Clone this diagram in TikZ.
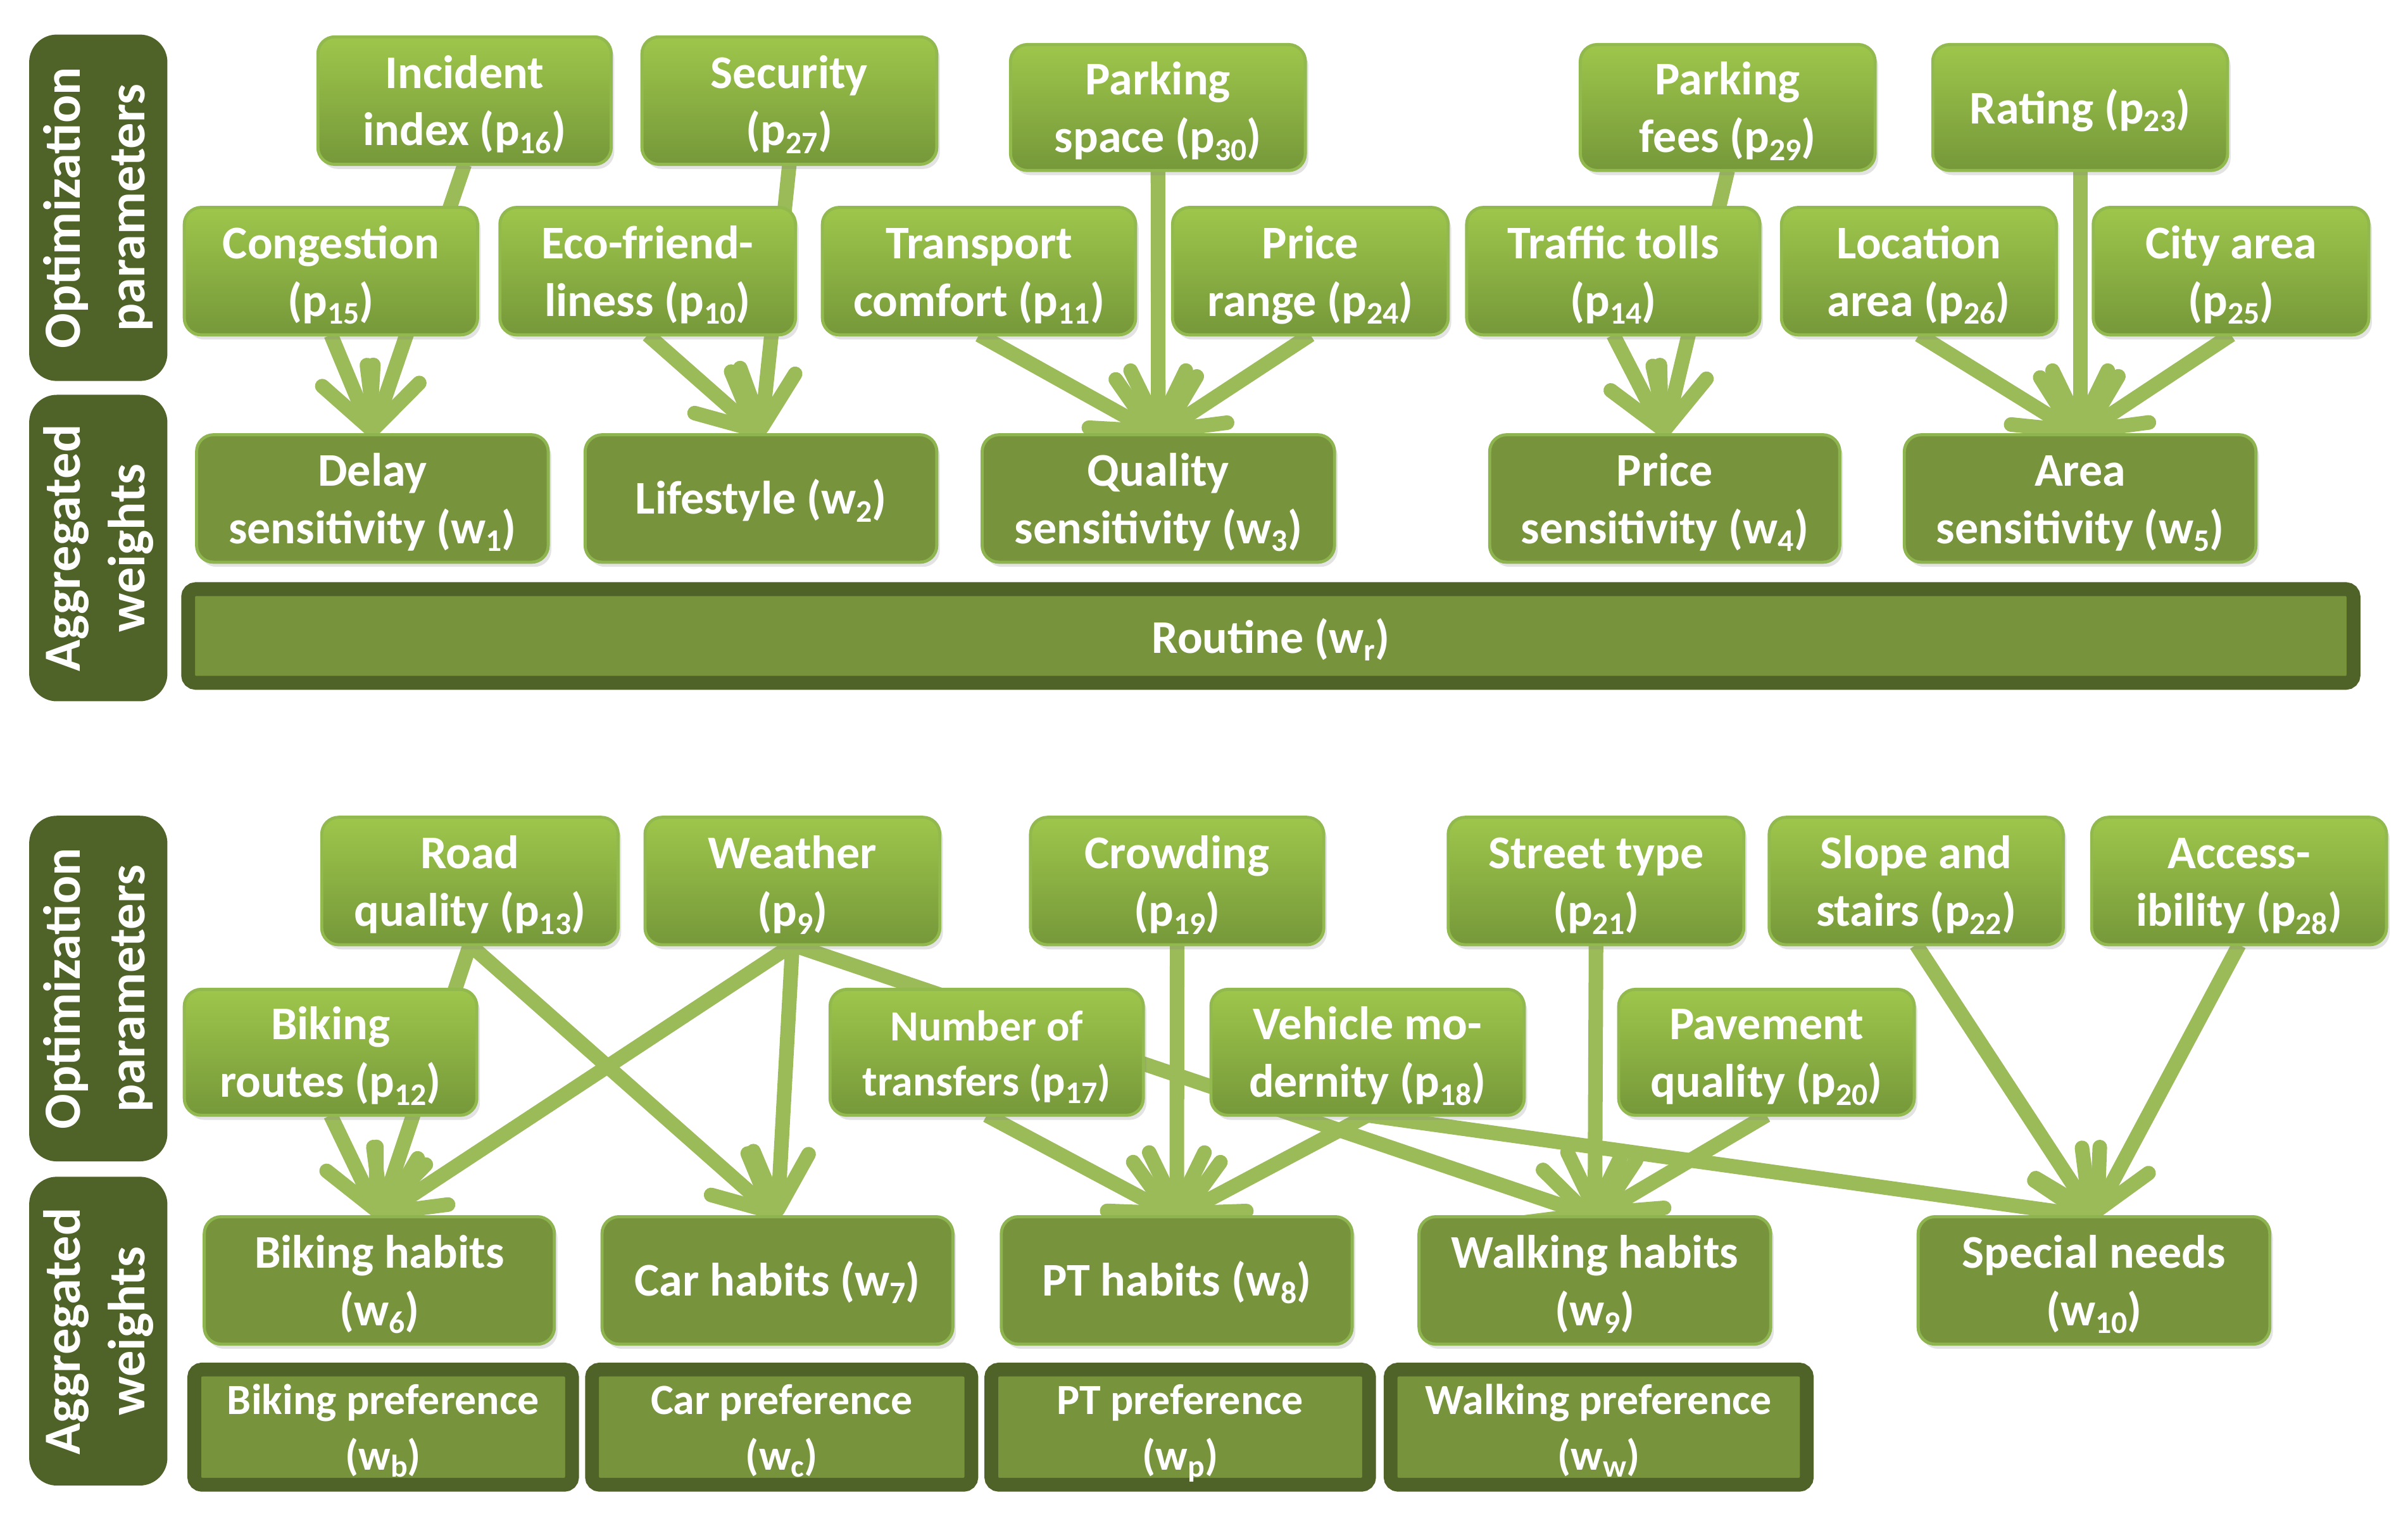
\documentclass[tikz,border=0pt]{standalone}
\usepackage{fontspec}
\setmainfont{Carlito}
\usetikzlibrary{arrows.meta,shadows}
\definecolor{pTop}{HTML}{9EC64B}
\definecolor{pBot}{HTML}{76983A}
\definecolor{pEdge}{HTML}{92B94E}
\definecolor{wFill}{HTML}{77933C}
\definecolor{wEdge}{HTML}{8EB450}
\definecolor{darkg}{HTML}{4F6228}
\definecolor{arrowc}{HTML}{9BBB59}
\pgfdeclarelayer{bg}
\pgfsetlayers{bg,main}
\newcommand\sbs[1]{\raisebox{-0.17em}{\fontsize{20.5}{20.5}\selectfont #1}}
% text block whose last baseline lies #1 below the node centre
\newcommand\tx[2]{\raisebox{-#1}[0pt][0pt]{\begin{tabular}[b]{@{}c@{}}#2\end{tabular}}}
\newcommand\two[1]{\tx{29.3pt}{#1}}
\newcommand\one[1]{\tx{10pt}{#1}}
\begin{document}
\begin{tikzpicture}[x=1pt,y=-1pt,
 every node/.style={text=white, font=\bfseries\fontsize{30.5}{37.5}\selectfont, align=center, inner sep=0pt, outer sep=0pt},
 pbox/.style={rounded corners=11pt, draw=pEdge, line width=2pt, top color=pTop, bottom color=pBot,
   drop shadow={shadow xshift=2pt,shadow yshift=-3pt,opacity=0.22}},
 wbox/.style={rounded corners=11pt, draw=wEdge, line width=2pt, fill=wFill,
   drop shadow={shadow xshift=2pt,shadow yshift=-3pt,opacity=0.22}},
 fbox/.style={rounded corners=5pt, draw=darkg, line width=9pt, fill=wFill,
   drop shadow={shadow xshift=2pt,shadow yshift=-3pt,opacity=0.22}},
 prefbox/.style={fbox, font=\bfseries\fontsize{28}{36}\selectfont},
 lbox/.style={rounded corners=18pt, fill=darkg, rotate=90, font=\bfseries\fontsize{34}{42}\selectfont},
 arr/.style={draw=arrowc, line width=9.5pt, -{Straight Barb[round,length=37pt,width=36pt]}}
]
\useasboundingbox (0,0) rectangle (1568,990);

% ---------- labels ----------
\node[lbox, minimum width=225.5pt, minimum height=90pt] (opt1) at (64,135.25) {Optimization\\parameters};
\node[lbox, minimum width=199.5pt, minimum height=90pt] (agg1) at (64,356.75) {Aggregated\\weights};
\node[lbox, minimum width=225pt, minimum height=90pt] (opt2) at (64,643.5) {Optimization\\parameters};
\node[lbox, minimum width=201pt, minimum height=90pt] (agg2) at (64,866.5) {Aggregated\\weights};

% ---------- top half: parameters ----------
\node[pbox, minimum width=191pt, minimum height=83pt] (p16) at (302.5,65.5) {\two{Incident\\index (p\sbs{16})}};
\node[pbox, minimum width=192pt, minimum height=83pt] (p27) at (514,65.5) {\two{Security\\(p\sbs{27})}};
\node[pbox, minimum width=192pt, minimum height=82pt] (p30) at (754,70) {\two{Parking\\space (p\sbs{30})}};
\node[pbox, minimum width=192pt, minimum height=82pt] (p29) at (1125,70) {\two{Parking\\fees (p\sbs{29})}};
\node[pbox, minimum width=192pt, minimum height=82pt] (p23) at (1354.5,70) {\tx{10.5pt}{Rating (p\sbs{23})}};

\node[pbox, minimum width=191pt, minimum height=83pt] (p15) at (215.5,176.5) {\two{Congestion\\(p\sbs{15})}};
\node[pbox, minimum width=192.5pt, minimum height=83pt] (p10) at (421.75,176.5) {\two{Eco-friend-\\liness (p\sbs{10})}};
\node[pbox, minimum width=204pt, minimum height=83pt] (p11) at (637.5,176.5) {\two{Transport\\comfort (p\sbs{11})}};
\node[pbox, minimum width=179.5pt, minimum height=83pt] (p24) at (853.25,176.5) {\two{Price\\range (p\sbs{24})}};
\node[pbox, minimum width=191pt, minimum height=83pt] (p14) at (1050.5,176.5) {\two{Traffic tolls\\(p\sbs{14})}};
\node[pbox, minimum width=179pt, minimum height=83pt] (p26) at (1249.5,176.5) {\two{Location\\area (p\sbs{26})}};
\node[pbox, minimum width=179.5pt, minimum height=83pt] (p25) at (1452.75,176.5) {\two{City area\\(p\sbs{25})}};

% ---------- top half: weights ----------
\node[wbox, minimum width=229pt, minimum height=83pt] (w1) at (242.5,324.5) {\two{Delay\\sensitivity (w\sbs{1})}};
\node[wbox, minimum width=229pt, minimum height=83pt] (w2) at (495.5,324.5) {\one{Lifestyle (w\sbs{2})}};
\node[wbox, minimum width=229.5pt, minimum height=83pt] (w3) at (754.25,324.5) {\two{Quality\\sensitivity (w\sbs{3})}};
\node[wbox, minimum width=228pt, minimum height=83pt] (w4) at (1084,324.5) {\two{Price\\sensitivity (w\sbs{4})}};
\node[wbox, minimum width=229pt, minimum height=83pt] (w5) at (1354.5,324.5) {\two{Area\\sensitivity (w\sbs{5})}};
\node[fbox, minimum width=1410pt, minimum height=61pt] (wr) at (827.5,414) {\tx{11pt}{Routine (w\sbs{r})}};

% ---------- bottom half: parameters ----------
\node[pbox, minimum width=193pt, minimum height=83pt] (p13) at (306,573.5) {\two{Road\\quality (p\sbs{13})}};
\node[pbox, minimum width=192pt, minimum height=83pt] (p9) at (516,573.5) {\two{Weather\\(p\sbs{9})}};
\node[pbox, minimum width=191pt, minimum height=83pt] (p19) at (766.5,573.5) {\two{Crowding\\(p\sbs{19})}};
\node[pbox, minimum width=192.5pt, minimum height=83pt] (p21) at (1039.25,573.5) {\two{Street type\\(p\sbs{21})}};
\node[pbox, minimum width=191.5pt, minimum height=83pt] (p22) at (1247.75,573.5) {\two{Slope and\\stairs (p\sbs{22})}};
\node[pbox, minimum width=192pt, minimum height=83pt] (p28) at (1458,573.5) {\two{Access-\\ibility (p\sbs{28})}};

\node[pbox, minimum width=190.5pt, minimum height=82pt] (p12) at (215.25,685) {\two{Biking\\routes (p\sbs{12})}};
\node[pbox, minimum width=204pt, minimum height=82pt, font=\bfseries\fontsize{28}{36}\selectfont] (p17) at (642.5,685) {\tx{28.5pt}{Number of\\transfers (p\sbs{17})}};
\node[pbox, minimum width=204pt, minimum height=82pt] (p18) at (890.5,685) {\two{Vehicle mo-\\dernity (p\sbs{18})}};
\node[pbox, minimum width=192.5pt, minimum height=82pt] (p20) at (1150.25,685) {\two{Pavement\\quality (p\sbs{20})}};

% ---------- bottom half: weights ----------
\node[wbox, minimum width=228pt, minimum height=83pt] (w6) at (247,833.5) {\two{Biking habits\\(w\sbs{6})}};
\node[wbox, minimum width=228.5pt, minimum height=83pt] (w7) at (506.25,833.5) {\one{Car habits (w\sbs{7})}};
\node[wbox, minimum width=228.5pt, minimum height=83pt] (w8) at (766.25,833.5) {\one{PT habits (w\sbs{8})}};
\node[wbox, minimum width=229pt, minimum height=83pt] (w9) at (1038.5,833.5) {\two{Walking habits\\(w\sbs{9})}};
\node[wbox, minimum width=229pt, minimum height=83pt] (w10) at (1363.5,833.5) {\two{Special needs\\(w\sbs{10})}};

\node[prefbox, minimum width=246pt, minimum height=75pt] (wb) at (249.5,929) {\tx{27.7pt}{Biking preference\\(w\sbs{b})}};
\node[prefbox, minimum width=247pt, minimum height=75pt] (wc) at (509,929) {\tx{27.7pt}{Car preference\\(w\sbs{c})}};
\node[prefbox, minimum width=246pt, minimum height=75pt] (wp) at (768.5,929) {\tx{27.7pt}{PT preference\\(w\sbs{p})}};
\node[prefbox, minimum width=271pt, minimum height=75pt] (ww) at (1041,929) {\tx{27.7pt}{Walking preference\\(w\sbs{w})}};

% ---------- connectors ----------
\begin{pgfonlayer}{bg}
\draw[arr] (p16.south) -- (w1.north);
\draw[arr] (p15.south) -- (w1.north);
\draw[arr] (p27.south) -- (w2.north);
\draw[arr] (p10.south) -- (w2.north);
\draw[arr] (p30.south) -- (w3.north);
\draw[arr] (p11.south) -- (w3.north);
\draw[arr] (p24.south) -- (w3.north);
\draw[arr] (p29.south) -- (w4.north);
\draw[arr] (p14.south) -- (w4.north);
\draw[arr] (p23.south) -- (w5.north);
\draw[arr] (p26.south) -- (w5.north);
\draw[arr] (p25.south) -- (w5.north);

\draw[arr] (p13.south) -- (w6.north);
\draw[arr] (p13.south) -- (w7.north);
\draw[arr] (p9.south) -- (w6.north);
\draw[arr] (p9.south) -- (w7.north);
\draw[arr] (p9.south) -- (w9.north);
\draw[arr] (p12.south) -- (w6.north);
\draw[arr] (p19.south) -- (w8.north);
\draw[arr] (p17.south) -- (w8.north);
\draw[arr] (p18.south) -- (w8.north);
\draw[arr] (p18.south) -- (w10.north);
\draw[arr] (p21.south) -- (w9.north);
\draw[arr] (p20.south) -- (w9.north);
\draw[arr] (p22.south) -- (w10.north);
\draw[arr] (p28.south) -- (w10.north);
\end{pgfonlayer}
\end{tikzpicture}
\end{document}
